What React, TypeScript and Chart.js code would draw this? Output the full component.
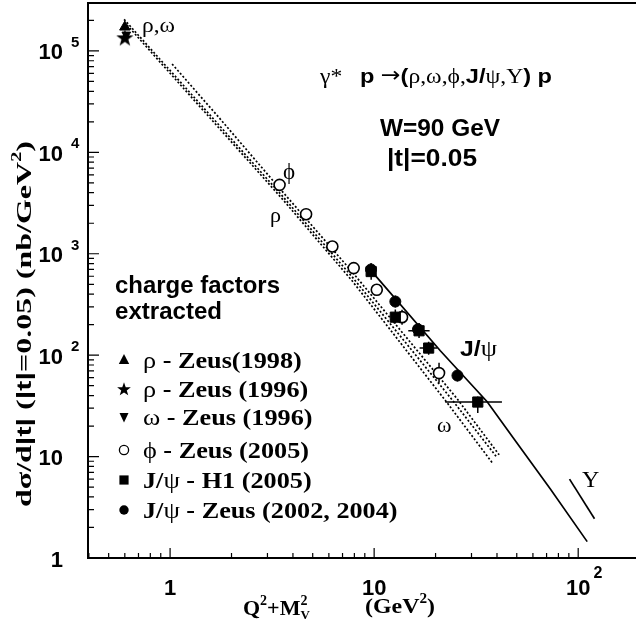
import React, { useEffect, useRef } from "react";
import { Chart, registerables } from "chart.js";

Chart.register(...registerables);

// ---- axis ranges ----
const X_MIN = 0.396;
const X_MAX = 192;
const Y_MIN = 1;
const Y_MAX = 2.97e5;

// ---- tick labels ----
const X_TICK_VALUES = [1, 10, 100];
const X_TICK_BASE = ["1", "10", "10"];
const X_TICK_EXP = ["", "", "2"];
const Y_TICK_VALUES = [1, 10, 100, 1000, 10000, 100000];
const Y_TICK_BASE = ["1", "10", "10", "10", "10", "10"];
const Y_TICK_EXP = ["", "", "2", "3", "4", "5"];

// ---- data points ----
const RHO98_X = [0.6];
const RHO98_Y = [1.72e5];
const RHO96_X = [0.6];
const RHO96_Y = [1.36e5];
const OMEGA96_X = [0.61];
const OMEGA96_Y = [1.45e5];

const PHI_X = [3.44, 4.64, 6.24, 7.94, 10.3, 13.7, 20.8];
const PHI_Y = [4780, 2456, 1178, 722, 441, 237, 66.6];
const PHI_YLO = [4500, 2330, 1120, 690, 420, 199, 53.4];
const PHI_YHI = [5100, 2590, 1240, 760, 465, 280, 84.1];

const JPSI_H1_X = [9.67, 12.7, 16.6, 18.5, 32.2];
const JPSI_H1_Y = [668, 237, 174, 117.5, 34.5];
const JPSI_H1_YLO = [553, 205, 148, 101, 26.9];
const JPSI_H1_YHI = [808, 282, 208, 136, 39.2];
const JPSI_H1_XLO = [9.67, 12.1, 14.7, 16.7, 22.3];
const JPSI_H1_XHI = [9.67, 13.4, 18.7, 20.4, 42.3];

const JPSI_ZEUS_X = [9.65, 12.7, 16.4, 25.6];
const JPSI_ZEUS_Y = [700, 338, 180, 63];
const JPSI_ZEUS_YLO = [620, 295, 160, 55];
const JPSI_ZEUS_YHI = [800, 387, 200, 71.8];

// ---- model curves ----
const RHO_LINE_X = [0.595, 1.403, 3.58, 7.8, 24.1, 40.1];
const RHO_LINE_Y = [2.05e5, 3.0e4, 3640, 592, 36.3, 9.74];
const OMEGA_LINE_X = [0.615, 1.403, 3.58, 7.8, 22.8, 37.9];
const OMEGA_LINE_Y = [1.8e5, 2.81e4, 3400, 541, 33.9, 8.7];
const PHI_LINE_X = [1.023, 1.758, 3.46, 7.8, 25.5, 41.0];
const PHI_LINE_Y = [7.44e4, 2.14e4, 4360, 663, 37.2, 10.4];
const JPSI_LINE_X = [9.78, 21.1, 35.8, 48.0, 72.9, 110.7];
const JPSI_LINE_Y = [663, 110.5, 34.7, 15.3, 4.82, 1.45];
const UPS_LINE_X = [90.7, 120.2];
const UPS_LINE_Y = [6.0, 2.44];

// ---- fonts ----
const SANS = '"Liberation Sans", Arial, Helvetica, sans-serif';
const SERIF = '"Liberation Serif", "Times New Roman", Times, serif';
const sb = (s: number) => `bold ${s}px ${SANS}`;
const sr = (s: number) => `${s}px ${SERIF}`;
const srb = (s: number) => `bold ${s}px ${SERIF}`;
const arrowFont = (s: number) => `${s}px "DejaVu Sans", sans-serif`;

type Seg = { t: string; f: string; dy?: number; stay?: boolean };

function drawSegs(
  ctx: CanvasRenderingContext2D,
  segs: Seg[],
  x: number,
  y: number,
  align: "left" | "center" | "right" = "left",
  target?: number,
  sxIn?: number
) {
  let total = 0;
  for (const s of segs) {
    ctx.font = s.f;
    if (!s.stay) total += ctx.measureText(s.t).width;
  }
  const sx = target ? target / total : sxIn || 1;
  const w = total * sx;
  const start = align === "left" ? x : align === "center" ? x - w / 2 : x - w;
  ctx.save();
  ctx.translate(start, y);
  ctx.scale(sx, 1);
  ctx.textAlign = "left";
  ctx.textBaseline = "alphabetic";
  let cx = 0;
  for (const s of segs) {
    ctx.font = s.f;
    ctx.fillText(s.t, cx, s.dy || 0);
    if (!s.stay) cx += ctx.measureText(s.t).width;
  }
  ctx.restore();
}

const LEGEND_TITLE = ["charge factors", "extracted"];
const LEGEND_SYMBOLS = ["tri-up", "star", "tri-down", "circle-open", "square", "circle"];
const LEGEND_TEXT: Seg[][] = [
  [{ t: "ρ", f: sr(23) }, { t: " - Zeus(1998)", f: srb(23) }],
  [{ t: "ρ", f: sr(23) }, { t: " - Zeus (1996)", f: srb(23) }],
  [{ t: "ω", f: sr(23) }, { t: " - Zeus (1996)", f: srb(23) }],
  [{ t: "ϕ", f: sr(23) }, { t: " - Zeus (2005)", f: srb(23) }],
  [{ t: "J/", f: srb(23) }, { t: "ψ", f: sr(23) }, { t: " - H1 (2005)", f: srb(23) }],
  [{ t: "J/", f: srb(23) }, { t: "ψ", f: sr(23) }, { t: " - Zeus (2002, 2004)", f: srb(23) }],
];

function starPath(g: CanvasRenderingContext2D, cx: number, cy: number, R: number, r: number) {
  g.beginPath();
  for (let i = 0; i < 10; i++) {
    const a = -Math.PI / 2 + (i * Math.PI) / 5;
    const rad = i % 2 === 0 ? R : r;
    const px = cx + rad * Math.cos(a);
    const py = cy + rad * Math.sin(a);
    if (i === 0) g.moveTo(px, py);
    else g.lineTo(px, py);
  }
  g.closePath();
}

function makeStar(size: number, R: number, r: number) {
  const c = document.createElement("canvas");
  c.width = size;
  c.height = size;
  const g = c.getContext("2d")!;
  g.fillStyle = "#000";
  starPath(g, size / 2, size / 2 + R * 0.1, R, r);
  g.fill();
  return c;
}

function drawSymbol(ctx: CanvasRenderingContext2D, kind: string, cx: number, cy: number) {
  ctx.save();
  ctx.fillStyle = "#000";
  ctx.strokeStyle = "#000";
  ctx.beginPath();
  if (kind === "tri-up") {
    ctx.moveTo(cx, cy - 6);
    ctx.lineTo(cx + 5.2, cy + 4);
    ctx.lineTo(cx - 5.2, cy + 4);
    ctx.closePath();
    ctx.fill();
  } else if (kind === "tri-down") {
    ctx.moveTo(cx, cy + 5.5);
    ctx.lineTo(cx + 4.5, cy - 4);
    ctx.lineTo(cx - 4.5, cy - 4);
    ctx.closePath();
    ctx.fill();
  } else if (kind === "star") {
    starPath(ctx, cx, cy + 0.5, 7.2, 2.9);
    ctx.fill();
  } else if (kind === "circle-open") {
    ctx.lineWidth = 1.3;
    ctx.arc(cx, cy, 4.6, 0, Math.PI * 2);
    ctx.fillStyle = "#fff";
    ctx.fill();
    ctx.stroke();
  } else if (kind === "square") {
    ctx.rect(cx - 4.6, cy - 4.6, 9.2, 9.2);
    ctx.fill();
  } else if (kind === "circle") {
    ctx.arc(cx, cy, 4.7, 0, Math.PI * 2);
    ctx.fill();
  }
  ctx.restore();
}

const pts = (xs: number[], ys: number[]) => xs.map((x, i) => ({ x, y: ys[i] }));

const ERRORS = [
  { x: PHI_X, y: PHI_Y, ylo: PHI_YLO, yhi: PHI_YHI },
  { x: JPSI_H1_X, y: JPSI_H1_Y, ylo: JPSI_H1_YLO, yhi: JPSI_H1_YHI, xlo: JPSI_H1_XLO, xhi: JPSI_H1_XHI },
  { x: JPSI_ZEUS_X, y: JPSI_ZEUS_Y, ylo: JPSI_ZEUS_YLO, yhi: JPSI_ZEUS_YHI },
];

const errorBarPlugin = {
  id: "errorBars",
  beforeDatasetsDraw(chart: any) {
    const { ctx, scales } = chart;
    const xs = scales.x;
    const ys = scales.y;
    ctx.save();
    ctx.strokeStyle = "#000";
    ctx.lineWidth = 1.5;
    for (const e of ERRORS as any[]) {
      for (let i = 0; i < e.x.length; i++) {
        const px = xs.getPixelForValue(e.x[i]);
        const py = ys.getPixelForValue(e.y[i]);
        ctx.beginPath();
        ctx.moveTo(px, ys.getPixelForValue(e.ylo[i]));
        ctx.lineTo(px, ys.getPixelForValue(e.yhi[i]));
        if (e.xlo && e.xlo[i] !== e.xhi[i]) {
          ctx.moveTo(xs.getPixelForValue(e.xlo[i]), py);
          ctx.lineTo(xs.getPixelForValue(e.xhi[i]), py);
        }
        ctx.stroke();
      }
    }
    ctx.restore();
  },
};

const decorPlugin = {
  id: "decor",
  afterDraw(chart: any) {
    const { ctx, chartArea: ca, scales } = chart;
    const xs = scales.x;
    const ys = scales.y;
    ctx.save();
    ctx.fillStyle = "#000";
    ctx.strokeStyle = "#000";

    // frame
    ctx.lineWidth = 2;
    ctx.beginPath();
    ctx.moveTo(ca.right, ca.top);
    ctx.lineTo(ca.left, ca.top);
    ctx.lineTo(ca.left, ca.bottom);
    ctx.lineTo(ca.right, ca.bottom);
    ctx.stroke();

    // ticks
    ctx.lineWidth = 1.2;
    ctx.beginPath();
    for (let e = 0; e <= 5; e++) {
      for (let m = 1; m <= 9; m++) {
        const v = m * Math.pow(10, e);
        if (v < Y_MIN || v > Y_MAX) continue;
        const py = ys.getPixelForValue(v);
        const len = m === 1 ? 11 : 6;
        ctx.moveTo(ca.left, py);
        ctx.lineTo(ca.left + len, py);
      }
    }
    for (let e = -1; e <= 2; e++) {
      for (let m = 1; m <= 9; m++) {
        const v = m * Math.pow(10, e);
        if (v < X_MIN * 1.01 || v > X_MAX) continue;
        const px = xs.getPixelForValue(v);
        const len = m === 1 ? 10 : 5;
        ctx.moveTo(px, ca.bottom);
        ctx.lineTo(px, ca.bottom - len);
      }
    }
    ctx.stroke();

    // tick labels
    for (let i = 0; i < Y_TICK_VALUES.length; i++) {
      const py = ys.getPixelForValue(Y_TICK_VALUES[i]);
      ctx.font = sb(22);
      ctx.textAlign = "right";
      ctx.textBaseline = "alphabetic";
      ctx.fillText(Y_TICK_BASE[i], ca.left - 25, py + 8.5);
      if (Y_TICK_EXP[i]) {
        ctx.font = sb(15);
        ctx.textAlign = "left";
        ctx.fillText(Y_TICK_EXP[i], ca.left - 17, py - 4);
      }
    }
    for (let i = 0; i < X_TICK_VALUES.length; i++) {
      const px = xs.getPixelForValue(X_TICK_VALUES[i]);
      ctx.font = sb(22);
      ctx.textAlign = "center";
      ctx.textBaseline = "alphabetic";
      ctx.fillText(X_TICK_BASE[i], px, ca.bottom + 37);
      if (X_TICK_EXP[i]) {
        const w = ctx.measureText(X_TICK_BASE[i]).width;
        ctx.font = sb(16);
        ctx.textAlign = "left";
        ctx.fillText(X_TICK_EXP[i], px + w / 2 + 3, ca.bottom + 20);
      }
    }

    // axis titles
    drawSegs(ctx, [
      { t: "Q", f: srb(22) },
      { t: "2", f: srb(14), dy: -10 },
      { t: "+M", f: srb(22) },
      { t: "2", f: srb(14), dy: -10, stay: true },
      { t: "V", f: srb(13), dy: 4 },
    ], 243, 615);
    drawSegs(ctx, [
      { t: "(GeV", f: srb(22) },
      { t: "2", f: srb(14), dy: -10 },
      { t: ")", f: srb(22) },
    ], 365, 613, "left", 70);

    ctx.save();
    ctx.translate(31, 324);
    ctx.rotate(-Math.PI / 2);
    drawSegs(ctx, [
      { t: "dσ/d", f: srb(22) },
      { t: "|t|", f: sb(21) },
      { t: " (", f: srb(22) },
      { t: "|t|", f: sb(21) },
      { t: "=0.05) (nb/GeV", f: srb(22) },
      { t: "2", f: srb(14), dy: -10 },
      { t: ")", f: srb(22) },
    ], 0, 0, "center", 366);
    ctx.restore();

    // header texts
    drawSegs(ctx, [
      { t: "γ*   ", f: sr(21) },
      { t: "p ", f: sb(21) },
      { t: "→", f: arrowFont(21), dy: -1 },
      { t: "(", f: sb(21) },
      { t: "ρ,ω,ϕ,", f: sr(21) },
      { t: "J/", f: sb(21) },
      { t: "ψ,Υ", f: sr(21) },
      { t: ") p", f: sb(21) },
    ], 320, 83, "left", 232);
    drawSegs(ctx, [{ t: "W=90 GeV", f: sb(24) }], 380, 136, "left", 120);
    drawSegs(ctx, [{ t: "|t|=0.05", f: sb(24) }], 387, 166, "left", 90);

    // curve labels
    drawSegs(ctx, [{ t: "ρ,ω", f: sr(21) }], 142, 32, "left", 33);
    drawSegs(ctx, [{ t: "ϕ", f: sr(23) }], 283, 179);
    drawSegs(ctx, [{ t: "ρ", f: sr(22) }], 270, 222);
    drawSegs(ctx, [{ t: "ω", f: sr(22) }], 437, 432);
    drawSegs(ctx, [{ t: "Υ", f: sr(24) }], 582, 487);
    drawSegs(ctx, [{ t: "J/", f: sb(22) }, { t: "ψ", f: sr(23) }], 460, 356, "left", 37);

    // legend
    drawSegs(ctx, [{ t: LEGEND_TITLE[0], f: sb(23) }], 115, 293, "left", 165);
    drawSegs(ctx, [{ t: LEGEND_TITLE[1], f: sb(23) }], 115, 319, "left", 107);
    const baselines = [368, 397, 425, 458, 488, 518];
    for (let i = 0; i < LEGEND_TEXT.length; i++) {
      drawSymbol(ctx, LEGEND_SYMBOLS[i], 124, baselines[i] - 8);
      drawSegs(ctx, LEGEND_TEXT[i], 143, baselines[i], "left", undefined, 1.14);
    }
    ctx.restore();
  },
};

export default function App() {
  const ref = useRef<HTMLCanvasElement | null>(null);
  useEffect(() => {
    document.body.style.margin = "0";
    const canvas = ref.current!;
    const star = makeStar(20, 9, 3.6);
    const black = "#000";
    const dots = [2, 2];
    const datasets: any[] = [
      { data: pts(RHO96_X, RHO96_Y), pointStyle: star, pointRadius: 9, backgroundColor: black, borderColor: black },
      { data: pts(RHO98_X, RHO98_Y), pointStyle: "triangle", pointRadius: 6, backgroundColor: black, borderColor: black, borderWidth: 1 },
      { data: pts(OMEGA96_X, OMEGA96_Y), pointStyle: "triangle", rotation: 180, pointRadius: 5, backgroundColor: black, borderColor: black, borderWidth: 1 },
      { data: pts(JPSI_ZEUS_X, JPSI_ZEUS_Y), pointStyle: "circle", pointRadius: 5.5, backgroundColor: black, borderColor: black, borderWidth: 1 },
      { data: pts(JPSI_H1_X, JPSI_H1_Y), pointStyle: "rect", pointRadius: 7.2, backgroundColor: black, borderColor: black, borderWidth: 1 },
      { data: pts(PHI_X, PHI_Y), pointStyle: "circle", pointRadius: 5.5, backgroundColor: "#fff", borderColor: black, borderWidth: 1.6 },
      { data: pts(JPSI_LINE_X, JPSI_LINE_Y), showLine: true, pointRadius: 0, borderColor: black, borderWidth: 1.7 },
      { data: pts(UPS_LINE_X, UPS_LINE_Y), showLine: true, pointRadius: 0, borderColor: black, borderWidth: 1.7 },
      { data: pts(RHO_LINE_X, RHO_LINE_Y), showLine: true, pointRadius: 0, borderColor: black, borderWidth: 1.7, borderDash: dots },
      { data: pts(OMEGA_LINE_X, OMEGA_LINE_Y), showLine: true, pointRadius: 0, borderColor: black, borderWidth: 1.7, borderDash: dots },
      { data: pts(PHI_LINE_X, PHI_LINE_Y), showLine: true, pointRadius: 0, borderColor: black, borderWidth: 1.7, borderDash: dots },
    ];
    const chart = new Chart(canvas, {
      type: "scatter",
      data: { datasets },
      options: {
        responsive: false,
        animation: false,
        devicePixelRatio: 1,
        events: [],
        layout: { autoPadding: false, padding: { left: 88, top: 3, right: 0, bottom: 74 } },
        scales: {
          x: { type: "logarithmic", min: X_MIN, max: X_MAX, display: false },
          y: { type: "logarithmic", min: Y_MIN, max: Y_MAX, display: false },
        },
        plugins: { legend: { display: false }, tooltip: { enabled: false } },
      } as any,
      plugins: [errorBarPlugin, decorPlugin],
    });
    return () => chart.destroy();
  }, []);
  return (
    <div style={{ width: 636, height: 632, background: "#fff" }}>
      <canvas ref={ref} width={636} height={632} style={{ display: "block" }} />
    </div>
  );
}
